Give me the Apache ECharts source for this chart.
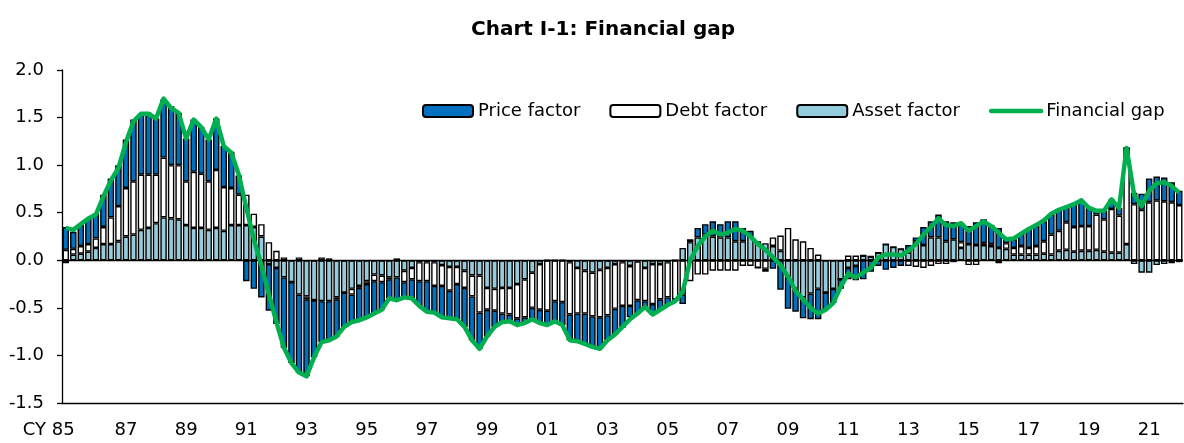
<!DOCTYPE html>
<html><head><meta charset="utf-8">
<script src="https://cdn.jsdelivr.net/npm/echarts/dist/echarts.min.js"></script>
<style>html,body{margin:0;padding:0;background:#fff}#c{width:1184px;height:443px}</style>
</head><body><div id="c"></div>
<script>
// Quarterly categories: CY1985 Q1 .. CY2022 Q1 (149 quarters)
const quarters = [];
for (let y = 1985; y <= 2022; y++) {
  for (let q = 1; q <= 4; q++) {
    if (y === 2022 && q > 1) break;
    quarters.push(String(y % 100).padStart(2, '0') + 'Q' + q);
  }
}
const yTicks = [-1.5, -1.0, -0.5, 0.0, 0.5, 1.0, 1.5, 2.0];

const assetFactor = [
 -0.03,0.06,0.07,0.09,0.13,0.17,0.17,0.20,0.25,0.27,
 0.32,0.34,0.39,0.45,0.44,0.43,0.37,0.34,0.34,0.32,
 0.34,0.31,0.37,0.37,0.37,0.35,0.25,-0.04,-0.08,-0.18,
 -0.23,-0.36,-0.38,-0.42,-0.43,-0.43,-0.39,-0.34,-0.30,-0.27,
 -0.22,-0.15,-0.16,-0.18,-0.18,-0.11,-0.08,-0.02,-0.02,-0.02,
 -0.05,-0.07,-0.07,-0.11,-0.16,-0.16,-0.29,-0.30,-0.29,-0.29,
 -0.25,-0.20,-0.13,-0.04,0.00,0.00,0.00,-0.02,-0.08,-0.11,
 -0.13,-0.10,-0.08,-0.04,-0.02,-0.06,-0.01,-0.08,-0.04,-0.04,
 -0.02,0.00,0.13,0.19,0.24,0.27,0.25,0.24,0.24,0.20,
 0.20,0.25,0.20,0.18,0.15,0.10,-0.18,-0.30,-0.39,-0.35,
 -0.30,-0.34,-0.30,-0.20,-0.08,-0.06,0.05,0.04,0.08,0.17,
 0.14,0.12,0.08,0.20,0.16,0.24,0.24,0.20,0.22,0.13,
 0.17,0.16,0.16,0.15,0.13,0.12,0.06,0.06,0.06,0.06,
 0.07,0.06,0.10,0.11,0.09,0.10,0.10,0.11,0.09,0.08,
 0.08,0.17,-0.04,-0.13,-0.13,-0.05,-0.04,-0.03,-0.02
];
const debtFactor = [
 0.11,0.06,0.08,0.08,0.10,0.18,0.28,0.37,0.51,0.56,
 0.58,0.56,0.51,0.63,0.56,0.57,0.46,0.59,0.57,0.51,
 0.61,0.46,0.39,0.32,0.32,0.14,0.13,0.19,0.10,0.03,
 0.00,0.03,-0.03,0.00,0.03,0.02,-0.02,0.00,-0.06,-0.02,
 -0.03,-0.07,-0.07,-0.02,0.02,-0.12,-0.12,-0.20,-0.20,-0.25,
 -0.22,-0.25,-0.18,-0.18,-0.22,-0.39,-0.23,-0.23,-0.27,-0.28,
 -0.36,-0.40,-0.37,-0.48,-0.53,-0.43,-0.44,-0.55,-0.48,-0.45,
 -0.46,-0.50,-0.50,-0.47,-0.46,-0.42,-0.41,-0.35,-0.42,-0.37,
 -0.37,-0.41,-0.36,-0.22,-0.15,-0.15,-0.11,-0.11,-0.11,-0.11,
 -0.06,-0.06,-0.08,-0.09,0.09,0.16,0.34,0.22,0.20,0.13,
 0.06,0.00,0.00,0.00,0.05,0.05,0.00,0.00,0.00,0.00,
 0.00,0.00,-0.06,-0.07,-0.08,-0.06,-0.04,-0.04,-0.02,0.06,
 -0.05,-0.05,0.02,0.02,-0.03,0.06,0.07,0.09,0.07,0.09,
 0.13,0.21,0.21,0.29,0.26,0.26,0.26,0.37,0.34,0.46,
 0.39,1.01,0.59,0.53,0.61,0.63,0.62,0.61,0.58
];
const priceFactor = [
 0.24,0.18,0.22,0.27,0.26,0.34,0.41,0.43,0.51,0.65,
 0.64,0.65,0.59,0.61,0.62,0.55,0.45,0.55,0.49,0.44,
 0.54,0.43,0.38,0.20,-0.22,-0.30,-0.39,-0.49,-0.59,-0.74,
 -0.85,-0.82,-0.81,-0.60,-0.43,-0.41,-0.39,-0.36,-0.29,-0.34,
 -0.35,-0.34,-0.29,-0.20,-0.24,-0.16,-0.20,-0.26,-0.32,-0.28,
 -0.33,-0.29,-0.37,-0.41,-0.46,-0.38,-0.28,-0.17,-0.10,-0.07,
 -0.07,-0.06,-0.12,-0.14,-0.15,-0.21,-0.24,-0.27,-0.29,-0.32,
 -0.32,-0.33,-0.26,-0.27,-0.23,-0.12,-0.14,-0.06,-0.11,-0.11,
 -0.08,-0.02,-0.10,0.03,0.10,0.11,0.16,0.14,0.17,0.21,
 0.14,0.06,0.00,-0.03,-0.09,-0.31,-0.33,-0.24,-0.22,-0.27,
 -0.32,-0.18,-0.15,-0.10,-0.12,-0.15,-0.20,-0.12,-0.06,-0.10,
 -0.08,-0.06,0.08,0.04,0.19,0.17,0.24,0.21,0.18,0.20,
 0.19,0.24,0.25,0.20,0.21,0.06,0.09,0.13,0.20,0.21,
 0.21,0.21,0.23,0.17,0.24,0.26,0.19,0.04,0.09,0.10,
 0.08,0.00,0.12,0.17,0.25,0.25,0.25,0.21,0.15
];
const financialGap = [
 0.34,0.32,0.38,0.44,0.48,0.67,0.84,0.97,1.24,1.46,
 1.54,1.54,1.49,1.70,1.60,1.55,1.28,1.48,1.40,1.27,
 1.49,1.20,1.13,0.90,0.55,0.22,-0.05,-0.36,-0.65,-0.92,
 -1.08,-1.18,-1.22,-1.02,-0.86,-0.84,-0.80,-0.70,-0.65,-0.63,
 -0.60,-0.56,-0.52,-0.40,-0.42,-0.39,-0.40,-0.48,-0.54,-0.55,
 -0.60,-0.61,-0.62,-0.70,-0.84,-0.93,-0.80,-0.70,-0.65,-0.64,
 -0.68,-0.66,-0.62,-0.66,-0.68,-0.64,-0.68,-0.84,-0.85,-0.88,
 -0.91,-0.93,-0.84,-0.78,-0.70,-0.62,-0.56,-0.49,-0.57,-0.52,
 -0.47,-0.43,-0.33,0.00,0.15,0.25,0.31,0.27,0.29,0.33,
 0.31,0.25,0.17,0.11,0.03,-0.05,-0.17,-0.32,-0.41,-0.50,
 -0.56,-0.52,-0.45,-0.28,-0.14,-0.18,-0.13,-0.08,0.03,0.06,
 0.06,0.05,0.10,0.17,0.27,0.35,0.44,0.37,0.36,0.39,
 0.31,0.36,0.41,0.36,0.29,0.22,0.23,0.28,0.33,0.37,
 0.42,0.49,0.53,0.56,0.59,0.63,0.55,0.52,0.52,0.64,
 0.55,1.18,0.69,0.57,0.73,0.81,0.82,0.78,0.71
];

const FONT = 'DejaVu Sans';
const border = { borderColor: '#000', borderWidth: 1.4 };
const chart = echarts.init(document.getElementById('c'), null, { renderer: 'canvas' });
chart.setOption({
  animation: false,
  backgroundColor: '#fff',
  title: {
    text: 'Chart I-1: Financial gap',
    left: 466, top: 15,
    textStyle: { fontFamily: FONT, fontSize: 20, fontWeight: 'bold', color: '#000' }
  },
  legend: {
    data: [
      'Price factor', 'Debt factor', 'Asset factor',
      { name: 'Financial gap', itemStyle: { opacity: 0 },
        lineStyle: { width: 4.5, cap: 'round', color: '#00B050' } }
    ],
    left: 417, top: 97, padding: [5, 5, 5, 5],
    itemWidth: 50, itemHeight: 12, itemGap: 29,
    textStyle: { fontFamily: FONT, fontSize: 18, color: '#000' }
  },
  grid: { left: 62, right: 1, top: 70, bottom: 40 },
  xAxis: {
    type: 'category',
    data: quarters,
    boundaryGap: true,
    axisLine: { onZero: false, lineStyle: { color: '#000', width: 1.3 } },
    axisTick: { interval: 7, length: 6, lineStyle: { color: '#000', width: 1.3 } },
    axisLabel: {
      interval: 7, margin: 18,
      fontFamily: FONT, fontSize: 18, color: '#000',
      formatter: function (v, idx) {
        const yy = v.slice(0, 2);
        return idx === 0 ? '{cy|CY ' + yy + '}' : yy;
      },
      rich: { cy: { fontFamily: FONT, fontSize: 18, color: '#000', padding: [0, 34, 0, 0] } }
    },
    splitLine: { show: false }
  },
  yAxis: {
    type: 'value',
    min: yTicks[0], max: yTicks[yTicks.length - 1], interval: 0.5,
    axisLine: { show: true, lineStyle: { color: '#000', width: 1.3 } },
    axisTick: { show: true, length: 5, lineStyle: { color: '#000', width: 1.3 } },
    axisLabel: { margin: 18, fontFamily: FONT, fontSize: 18, color: '#000',
      formatter: v => v.toFixed(1) },
    splitLine: { show: false }
  },
  series: [
    { name: 'Asset factor', type: 'bar', stack: 'f', data: assetFactor,
      barCategoryGap: '14%', itemStyle: Object.assign({ color: '#93CDDD' }, border),
      markLine: { silent: true, symbol: 'none', label: { show: false },
        lineStyle: { color: '#000', type: 'solid', width: 1.3 }, data: [{ yAxis: 0 }] } },
    { name: 'Debt factor', type: 'bar', stack: 'f', data: debtFactor,
      barCategoryGap: '14%', itemStyle: Object.assign({ color: '#FFFFFF' }, border) },
    { name: 'Price factor', type: 'bar', stack: 'f', data: priceFactor,
      barCategoryGap: '14%', itemStyle: Object.assign({ color: '#0070C0' }, border) },
    { name: 'Financial gap', type: 'line', data: financialGap, symbol: 'none', z: 10,
      lineStyle: { color: '#00B050', width: 4.5, join: 'round' }, itemStyle: { color: '#00B050' } }
  ]
});
</script>
</body></html>
